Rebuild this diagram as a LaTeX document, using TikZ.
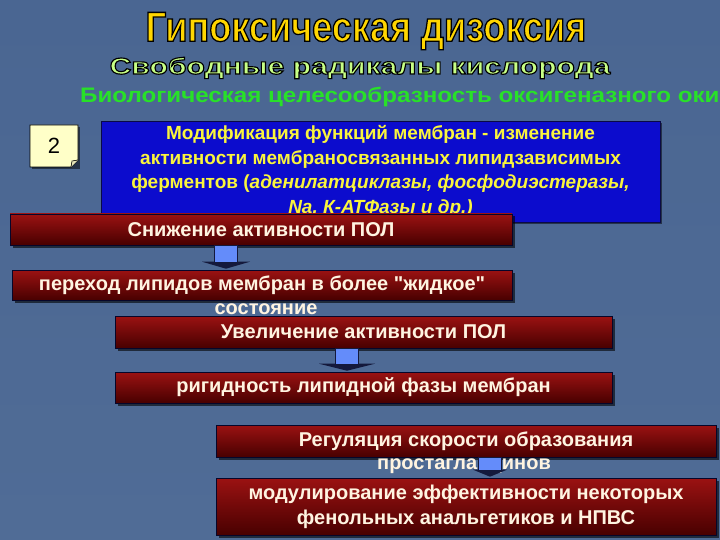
\documentclass[tikz,border=0pt]{standalone}
\usepackage{fontspec}
\setmainfont{Liberation Sans}
\newfontfamily\titlef[FakeStretch=0.86,FakeBold=3]{Liberation Sans}
\newfontfamily\widef[FakeStretch=1.31,FakeBold=5]{Liberation Sans}
\newfontfamily\greenf[FakeStretch=1.15]{Liberation Sans}
\usetikzlibrary{calc,shadows}
\definecolor{bgtop}{RGB}{74,102,146}
\definecolor{bgbot}{RGB}{80,108,150}
\definecolor{redtop}{RGB}{155,18,18}
\definecolor{redmid}{RGB}{122,4,4}
\definecolor{redbot}{RGB}{72,0,0}
\definecolor{bluebox}{RGB}{12,12,205}
\definecolor{navy}{RGB}{10,10,70}
\definecolor{yel}{RGB}{250,245,60}
\definecolor{cream}{RGB}{255,244,225}
\definecolor{greentxt}{RGB}{40,225,40}
\definecolor{arrowc}{RGB}{100,140,250}
\definecolor{arrowh}{RGB}{20,25,60}
\definecolor{note}{RGB}{255,255,200}
\tikzset{
  redbox/.style={draw=navy!60!black, line width=0.6pt, top color=redtop, middle color=redmid, bottom color=redbot,
     text=cream, font=\bfseries\fontsize{20}{25}\selectfont, inner sep=0pt, align=center,
     drop shadow={shadow xshift=2.5pt, shadow yshift=-2.5pt, fill=black, opacity=0.6}},
  bluestyle/.style={draw=navy, line width=0.8pt, fill=bluebox, text=yel, inner sep=0pt, align=center,
     font=\bfseries\fontsize{19}{24.5}\selectfont,
     drop shadow={shadow xshift=2pt, shadow yshift=-2pt, fill=black, opacity=0.5}},
  plaintxt/.style={inner sep=0pt, text=cream, font=\bfseries\fontsize{20}{22}\selectfont},
  shaftc/.style={fill=arrowc, draw=arrowh, line width=0.6pt},
  headc/.style={fill=arrowh},
}
\newcommand\barrow[4]{% x-coordinate, from node, to node, head half width
  \path (#1 |- #2.south) coordinate (bt) (#1 |- #3.north) coordinate (be);
  \fill[headc] ($(be)+(-#4,-8)$) -- ($(be)+(#4,-8)$) -- ($(be)+(0,-1)$) -- cycle;
  \draw[shaftc] ($(bt)+(-11.5,0)$) rectangle ($(be)+(11.5,-7)$);
}
\begin{document}
\begin{tikzpicture}[x=1pt,y=-1pt]
\useasboundingbox (0,0) rectangle (720,540);
\clip (0,0) rectangle (720,540);
\shade[top color=bgtop, bottom color=bgbot] (0,0) rectangle (720,540);

% title (yellow fill, black outline)
\node[inner sep=0pt, font=\titlef\bfseries\fontsize{42}{42}\selectfont] (title) at (366,31)
  {\special{pdf:bcolor [1 0.84 0] [0 0 0]}Гипоксическая дизоксия\special{pdf:ecolor}};

% subtitle
\node[inner sep=0pt, font=\widef\bfseries\fontsize{23}{23}\selectfont] (sub) at (360,68)
  {\special{pdf:bcolor [0.78 1 0.52] [0 0 0]}Свободные радикалы кислорода\special{pdf:ecolor}};

% green line
\node[anchor=west, inner sep=0pt, text=greentxt, font=\greenf\bfseries\fontsize{21}{22}\selectfont] (bio) at (80,97) {Биологическая целесообразность оксигеназного окис};

% number box
\fill[black, opacity=0.5] (32,127) -- (80,127) -- (80,169) -- (32,169) -- cycle;
\draw[fill=note, line width=0.8pt] (30,125) -- (78,125) -- (78,160) -- (71,167) -- (30,167) -- cycle;
\draw[fill=note!80!gray, line width=0.6pt] (78,160) -- (72,161) -- (71,167);
\node[inner sep=0pt, font=\fontsize{22}{22}\selectfont] (n2) at (54,146) {2};

% blue box
\node[bluestyle, minimum width=559pt, minimum height=101pt] (mod) at (380.5,171.5) {%
  Модификация функций мембран - изменение\\
  активности мембраносвязанных липидзависимых\\
  ферментов (\textit{аденилатциклазы, фосфодиэстеразы,}\\
  \textit{Na, К-АТФазы и др.)}};

% red boxes
\node[redbox, minimum width=502pt, minimum height=31pt] (b1) at (261,229.5) {Снижение активности ПОЛ};
\node[redbox, minimum width=500pt, minimum height=30pt] (b2) at (262,285) {переход липидов мембран в более \textquotedbl жидкое\textquotedbl};
\node[plaintxt] (st) at (266,309) {состояние};
\node[redbox, minimum width=497pt, minimum height=32pt] (b3) at (363.5,332) {Увеличение активности ПОЛ};
\node[redbox, minimum width=497pt, minimum height=31pt] (b4) at (363.5,387.5) {ригидность липидной фазы мембран};
\node[redbox, minimum width=500pt, minimum height=32pt] (b5) at (466,441) {Регуляция скорости образования};
\node[plaintxt] (pg) at (464,466) {простагландинов};
\node[redbox, minimum width=500pt, minimum height=57pt] (b6) at (466,506.5) {модулирование эффективности некоторых\\фенольных анальгетиков и НПВС};

% block arrows
\coordinate (x1) at (226,0);
\coordinate (x2) at (347,0);
\coordinate (x3) at (490,0);
\barrow{x1}{b1}{b2}{24}
\barrow{x2}{b3}{b4}{28}
\barrow{x3}{b5}{b6}{17}
\end{tikzpicture}
\end{document}
